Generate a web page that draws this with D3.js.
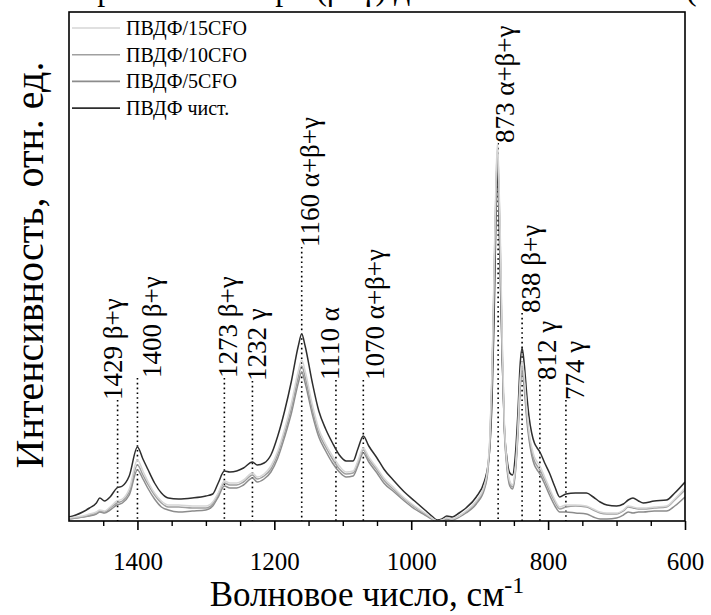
<!DOCTYPE html>
<html>
<head>
<meta charset="utf-8">
<script src="https://cdn.jsdelivr.net/npm/d3@7"></script>
<style>
  body { margin: 0; background: #fff; }
  svg text { font-family: "Liberation Serif", "Times New Roman", "DejaVu Serif", serif; fill: #000; }
</style>
</head>
<body>
<div id="chart"></div>
<script>
// wavenumber grid (cm-1)
const wavenumbers = [1500,1490,1480,1470,1460,1455,1448,1440,1430,1422,1412,1400,1392,1385,1375,1365,1355,1340,1320,1300,1290,1282,1273,1265,1255,1245,1232,1225,1215,1205,1195,1185,1175,1165,1160,1155,1145,1135,1125,1115,1105,1095,1085,1078,1070,1062,1050,1040,1025,1010,995,980,970,962,955,948,940,930,920,905,893,888,885,882,879,876,874,872,870,867,864,860,856,852,848,844,841,838,835,831,828,824,820,816,812,805,798,790,783,774,760,744,734,724,714,700,690,683,676,668,661,645,627,615,600];

// intensities (arb. units) for each sample
const pure  = [4,6,9,13,18,23,20,24,33,35,45,74,62,52,38,28,23,22,23,25,27,38,50,49,50,53,59,56,58,66,85,110,140,175,187,175,140,110,92,78,66,60,60,72,85,75,63,52,40,29,20,11,5,1,2,5,4,8,13,24,40,55,75,120,200,310,360,310,250,160,95,62,48,46,65,110,155,173,158,125,105,88,78,73,69,58,48,34,24,27,28,28,24,19,16,15,17,21,23,20,18,20,21,28,39];
const cfo5  = [2,3,4,5,7,9,8,11,16,18,26,51,42,33,22,14,11,9,10,11,15,24,35,33,33,36,43,39,42,49,63,84,108,138,149,138,108,84,70,58,49,44,45,55,68,59,48,38,29,20,12,6,2,0,0,2,1,4,8,17,32,50,78,140,235,330,366,330,272,165,92,52,35,32,47,87,130,150,134,100,82,66,56,51,47,37,26,15,9,9,8,7,4,2,2,3,6,9,8,9,9,10,10,15,24];
const cfo10 = [2,3,4,6,8,10,9,13,18,20,29,56,46,37,26,18,14,14,13,13,17,27,38,36,36,39,46,42,45,52,67,88,113,144,155,144,113,88,74,62,52,47,48,58,71,62,51,41,31,22,14,7,3,0,1,3,2,5,9,19,34,53,82,145,242,338,372,338,280,172,96,55,38,34,50,91,135,155,140,105,86,70,60,55,51,41,30,19,12,14,15,14,11,8,7,7,10,14,13,12,12,13,14,21,31];
const cfo15 = [3,4,5,7,9,11,10,14,20,22,32,61,50,40,28,20,16,16,15,15,19,28,40,38,38,41,48,44,47,55,70,92,118,150,161,150,118,92,77,65,55,49,50,60,73,64,53,43,33,23,15,8,3,0,1,3,2,5,10,20,36,55,85,150,250,345,378,345,290,180,100,58,40,36,52,95,140,160,145,110,90,74,64,59,55,44,33,21,14,16,16,15,12,9,8,8,11,15,14,13,13,14,15,22,33];

const seriesNames  = ["ПВДФ/15CFO", "ПВДФ/10CFO", "ПВДФ/5CFO", "ПВДФ чист."];
const seriesColors = ["#d6d6d6", "#a0a0a0", "#8c8c8c", "#2e2e2e"];

// assigned bands: position, label, intensity where label starts, label centre (cm-1)
const peakWn     = [1429, 1400, 1273, 1232, 1160, 1110, 1070, 873, 838, 812, 774];
const peakLabels = ["1429 β+γ", "1400 β+γ", "1273 β+γ", "1232 γ", "1160 α+β+γ", "1110 α", "1070 α+β+γ", "873 α+β+γ", "838 β+γ", "812 γ", "774 γ"];
const labelLevel = [121, 143, 143, 140, 274, 141, 141, 378, 208, 141, 121];
const labelWn    = [1436, 1379, 1268, 1225, 1148, 1119, 1053, 863, 826, 802, 761];

const xTicks      = [1400, 1200, 1000, 800, 600];
const xMinorTicks = [1450, 1350, 1300, 1250, 1150, 1100, 1050, 950, 900, 850, 750, 700, 650];

const serif = "'Liberation Serif', 'Times New Roman', 'DejaVu Serif', serif";
const width = 711, height = 615;
const margin = {top: 12, right: 26, bottom: 94, left: 69};

const svg = d3.select("#chart").append("svg")
    .attr("width", width)
    .attr("height", height)
    .attr("font-family", serif);

const x = d3.scaleLinear().domain([1500, 600]).range([margin.left, width - margin.right]);
const y = d3.scaleLinear().domain([0, 509]).range([height - margin.bottom, margin.top]);

// caption line cut off by the top edge of the picture (only descenders show)
const cap = svg.append("text")
    .attr("y", 0)
    .style("font-family", serif)
    .style("font-size", "32px");
cap.append("tspan").attr("x", 15).text("Спектры КР");
cap.append("tspan").attr("x", 258).text("при (β+γ) для");
cap.append("tspan").attr("x", 686).text("(");

svg.append("clipPath").attr("id", "plotClip")
  .append("rect")
    .attr("x", margin.left).attr("y", margin.top)
    .attr("width", x(600) - x(1500)).attr("height", y(0) - y(509));

// dotted band markers
svg.append("g")
    .selectAll("line")
    .data(peakWn)
    .enter().append("line")
    .attr("x1", d => x(d)).attr("x2", d => x(d))
    .attr("y1", (d, i) => y(labelLevel[i]))
    .attr("y2", y(0))
    .attr("stroke", "#000")
    .attr("stroke-width", 1.6)
    .attr("stroke-dasharray", "1.6,3.2");

// spectra
const line = d3.line()
    .x(d => x(d[0]))
    .y(d => y(d[1]))
    .curve(d3.curveMonotoneX);

const series = [pure, cfo5, cfo10, cfo15];
const seriesColorByIdx = [seriesColors[3], seriesColors[2], seriesColors[1], seriesColors[0]];

svg.append("g")
    .attr("clip-path", "url(#plotClip)")
    .selectAll("path")
    .data(series)
    .enter().append("path")
    .attr("d", s => line(wavenumbers.map((w, i) => [w, s[i]])))
    .attr("fill", "none")
    .attr("stroke", (d, i) => seriesColorByIdx[i])
    .attr("stroke-width", 1.5);

// band labels
svg.append("g")
    .selectAll("text")
    .data(peakLabels)
    .enter().append("text")
    .attr("transform", (d, i) => "translate(" + x(labelWn[i]) + "," + y(labelLevel[i]) + ") rotate(-90)")
    .attr("dy", "0.34em")
    .style("font-family", serif)
    .style("font-size", "27px")
    .text(d => d);

// frame
svg.append("rect")
    .attr("x", margin.left).attr("y", margin.top)
    .attr("width", x(600) - x(1500)).attr("height", y(0) - y(509))
    .attr("fill", "none")
    .attr("stroke", "#000")
    .attr("stroke-width", 1.6);

// x axis
const xAxis = d3.axisBottom(x).tickValues(xTicks).tickSize(9).tickSizeOuter(0).tickPadding(22).tickFormat(d3.format("d"));
const gx = svg.append("g")
    .attr("transform", "translate(0," + y(0) + ")")
    .call(xAxis);
gx.attr("font-family", serif);
gx.select(".domain").remove();
gx.selectAll("line").attr("stroke-width", 1.6);
gx.selectAll("text")
    .style("font-family", serif)
    .style("font-size", "25px");

const gxm = svg.append("g")
    .attr("transform", "translate(0," + y(0) + ")")
    .call(d3.axisBottom(x).tickValues(xMinorTicks).tickSize(5).tickSizeOuter(0).tickFormat(""));
gxm.select(".domain").remove();
gxm.selectAll("line").attr("stroke-width", 1.4);

// axis titles
const xt = svg.append("text")
    .attr("x", 367).attr("y", 606)
    .attr("text-anchor", "middle")
    .style("font-family", serif)
    .style("font-size", "35px");
xt.append("tspan").text("Волновое число, см");
xt.append("tspan").attr("dy", "-0.55em").style("font-size", "24px").text("-1");

svg.append("text")
    .attr("transform", "translate(43,265) rotate(-90)")
    .attr("text-anchor", "middle")
    .style("font-family", serif)
    .style("font-size", "40px")
    .text("Интенсивность, отн. ед.");

// legend
const legendOrder = [0, 1, 2, 3];
const legend = svg.append("g").selectAll("g")
    .data(legendOrder)
    .enter().append("g")
    .attr("transform", (d, i) => "translate(72," + (28 + i * 26.7) + ")");
legend.append("line")
    .attr("x1", 0).attr("x2", 48)
    .attr("stroke", d => seriesColors[d])
    .attr("stroke-width", 1.6);
legend.append("text")
    .attr("x", 54).attr("y", 7)
    .style("font-family", serif)
    .style("font-size", "20px")
    .text(d => seriesNames[d]);
</script>
</body>
</html>
